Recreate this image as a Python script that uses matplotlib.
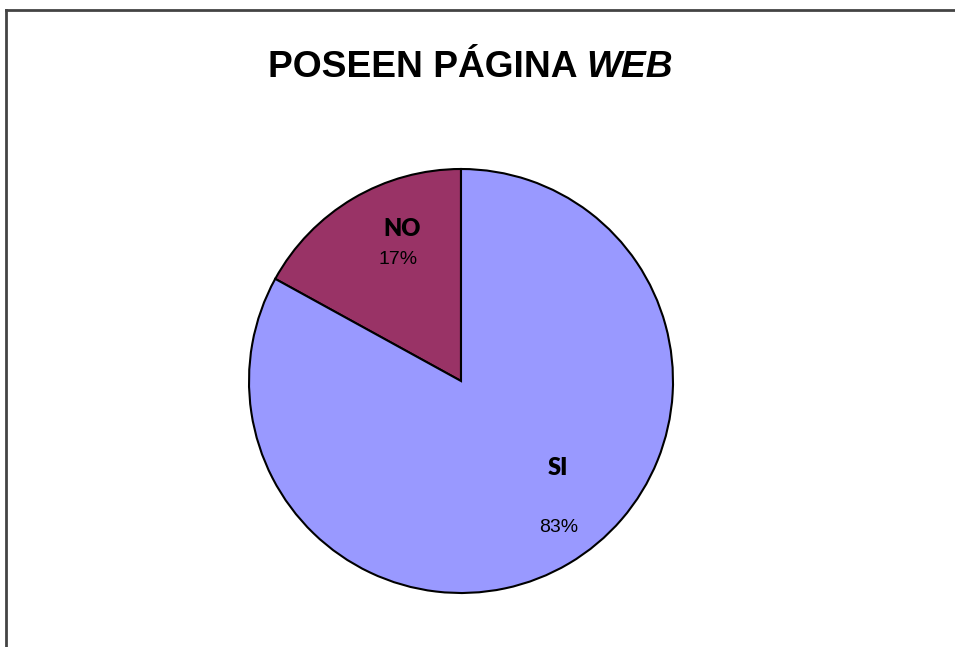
import matplotlib
matplotlib.use("Agg")
import matplotlib.pyplot as plt
from matplotlib.lines import Line2D

labels = ["NO", "SI"]
values = [17, 83]
colors = ["#993366", "#9999FF"]

fig = plt.figure(figsize=(9.55, 6.47), dpi=100)
fig.patch.set_facecolor("white")

# chart frame: only the top and left edges fall inside the picture
fx, fy = 6 / 955, 1 - 10 / 647
fig.add_artist(Line2D([fx, 1.0], [fy, fy], color="#444444", lw=2,
                      transform=fig.transFigure))
fig.add_artist(Line2D([fx, fx], [0.0, fy], color="#444444", lw=2,
                      transform=fig.transFigure))

# title: bold part + bold italic part, centred together
title_y = 1 - 77 / 647
t1 = fig.text(0, title_y, "POSEEN PÁGINA ", ha="left", va="baseline",
              fontsize=26.7, fontweight="bold", family="Liberation Sans")
t2 = fig.text(0, title_y, "WEB", ha="left", va="baseline", fontsize=26.7,
              fontweight="bold", style="italic", family="Liberation Sans")
r = fig.canvas.get_renderer()
w1 = t1.get_window_extent(r).width
w2 = t2.get_window_extent(r).width
x0 = 470.5 - (w1 + w2) / 2
t1.set_x(x0 / 955)
t2.set_x((x0 + w1) / 955)

ax = fig.add_axes([249 / 955, 54 / 647, 424 / 955, 424 / 647])
wedges, _ = ax.pie(values, colors=colors, startangle=90, counterclock=True,
                   radius=1.0, wedgeprops=dict(edgecolor="black", linewidth=1.5))
ax.set_xlim(-1, 1)
ax.set_ylim(-1, 1)
ax.set_aspect("equal")
ax.axis("off")

# label positions (name, percentage)
name_pos = [(-0.278, 0.717), (0.458, -0.41)]
pct_pos = [(-0.297, 0.571), (0.462, -0.689)]
for lab, v, npos, ppos in zip(labels, values, name_pos, pct_pos):
    ax.text(npos[0], npos[1], lab, ha="center", va="center", fontsize=17,
            fontweight="heavy", family="Lato")
    ax.text(ppos[0], ppos[1], f"{v}%", ha="center", va="center", fontsize=14,
            family="Liberation Sans")

fig.savefig("out.png", dpi=100)
